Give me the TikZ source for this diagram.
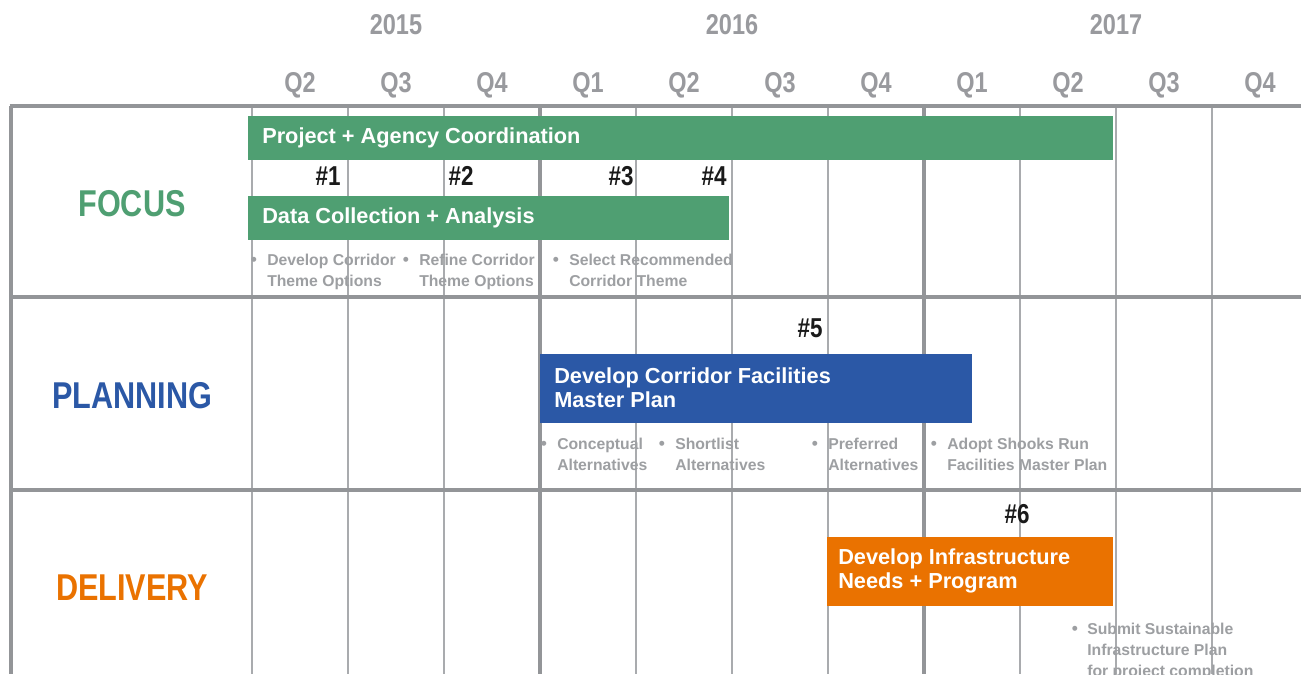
\documentclass[tikz,border=0pt]{standalone}
\usepackage{fontspec}
\setmainfont{Liberation Sans}
\newfontfamily\condf[FakeStretch=0.82]{Liberation Sans}
\definecolor{focusgreen}{HTML}{4F9F72}
\definecolor{planblue}{HTML}{2B58A6}
\definecolor{delorange}{HTML}{EA7200}
\definecolor{griddark}{HTML}{939598}
\definecolor{gridlight}{HTML}{A9ABAE}
\definecolor{headgray}{HTML}{999A9E}
\definecolor{notegray}{HTML}{9D9FA2}
\definecolor{inkblack}{HTML}{1A1A1A}
\tikzset{
  gridthin/.style={draw=gridlight, line width=1.1pt},
  gridthick/.style={draw=griddark, line width=3pt},
  headtext/.style={font=\condf\bfseries\fontsize{21.5}{24}\selectfont, text=headgray, inner sep=0pt},
  rowlabel/.style={font=\condf\bfseries\fontsize{28}{30}\selectfont, inner sep=0pt},
  barlabel/.style={font=\bfseries\fontsize{16.3}{18}\selectfont, text=white, anchor=west, align=left, inner sep=0pt},
  milestone/.style={font=\condf\bfseries\fontsize{20.5}{22}\selectfont, text=inkblack, inner sep=0pt},
  note/.style={font=\bfseries\fontsize{11.8}{15.5}\selectfont, text=notegray, anchor=north west, align=left, inner sep=0pt},
  bulletdot/.style={font=\bfseries\fontsize{13}{15.5}\selectfont, text=notegray, inner sep=0pt}
}
\begin{document}
\begin{tikzpicture}[x=0.75pt,y=-0.75pt]
\useasboundingbox (0,0) rectangle (1301,674);
\fill[white] (0,0) rectangle (1301,674);

% grid
\foreach \x in {252,348,444,636,732,828,1020,1116,1212}
  \draw[gridthin] (\x,106) -- (\x,674);
\foreach \x in {11,540,924}
  \draw[gridthick] (\x,106) -- (\x,674);
\foreach \y in {106,297,490}
  \draw[gridthick] (9.5,\y) -- (1301,\y);

% years
\node[headtext] (y2015) at (396,25) {2015};
\node[headtext] (y2016) at (732,25) {2016};
\node[headtext] (y2017) at (1116,25) {2017};

% quarters
\foreach \x/\q/\n in {300/Q2/a,396/Q3/b,492/Q4/c,588/Q1/d,684/Q2/e,780/Q3/f,876/Q4/g,972/Q1/h,1068/Q2/i,1164/Q3/j,1260/Q4/k}
  \node[headtext] (q\n) at (\x,85) {\q};

% row labels
\node[rowlabel, text=focusgreen] (focus) at (132,204) {FOCUS};
\node[rowlabel, text=planblue] (planning) at (132,396) {PLANNING};
\node[rowlabel, text=delorange] (delivery) at (132,588) {DELIVERY};

% bars
\fill[focusgreen] (248,116) rectangle (1113,160);
\node[barlabel] (coord) at (262,138) {Project + Agency Coordination};
\fill[focusgreen] (248,196) rectangle (729,240);
\node[barlabel] (data) at (262,218) {Data Collection + Analysis};
\fill[planblue] (540,354) rectangle (972,423);
\node[barlabel] (master) at (554,388) {Develop Corridor Facilities\\Master Plan};
\fill[delorange] (827,537) rectangle (1113,606);
\node[barlabel] (infra) at (838,571) {Develop Infrastructure\\Needs + Program};

% milestones
\node[milestone] (m1) at (328,176) {\#1};
\node[milestone] (m2) at (461,176) {\#2};
\node[milestone] (m3) at (621,176) {\#3};
\node[milestone] (m4) at (714,176) {\#4};
\node[milestone] (m5) at (810,328) {\#5};
\node[milestone] (m6) at (1017,514) {\#6};

% focus notes
\node[bulletdot] (b1) at (254,261) {•};
\node[note] (n1) at (267,254) {Develop Corridor\\Theme Options};
\node[bulletdot] (b2) at (406,261) {•};
\node[note] (n2) at (419,254) {Refine Corridor\\Theme Options};
\node[bulletdot] (b3) at (556,261) {•};
\node[note] (n3) at (569,254) {Select Recommended\\Corridor Theme};

% planning notes
\node[bulletdot] (b4) at (544,445) {•};
\node[note] (n4) at (557,438) {Conceptual\\Alternatives};
\node[bulletdot] (b5) at (662,445) {•};
\node[note] (n5) at (675,438) {Shortlist\\Alternatives};
\node[bulletdot] (b6) at (815,445) {•};
\node[note] (n6) at (828,438) {Preferred\\Alternatives};
\node[bulletdot] (b7) at (934,445) {•};
\node[note] (n7) at (947,438) {Adopt Shooks Run\\Facilities Master Plan};

% delivery notes
\node[bulletdot] (b8) at (1075,630) {•};
\node[note] (n8) at (1087,623) {Submit Sustainable\\Infrastructure Plan\\for project completion};
\end{tikzpicture}
\end{document}
